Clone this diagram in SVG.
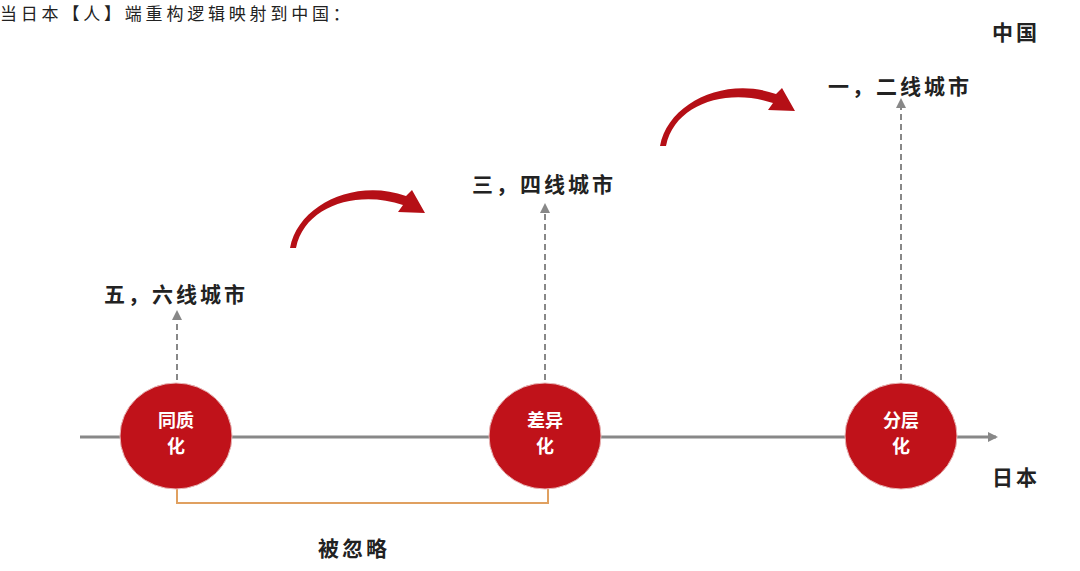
<svg xmlns="http://www.w3.org/2000/svg" width="1080" height="571" viewBox="0 0 1080 571">
<style>
text{font-family:"Noto Sans CJK SC","Noto Sans",sans-serif;fill:#222;font-weight:bold}
.lbl{font-size:21px;letter-spacing:3px}
.c{fill:#c0121a;stroke:#e8b8b8;stroke-width:1}
.ct{fill:#fff;font-size:18px;text-anchor:middle}
.dash{stroke:#888;stroke-width:2;stroke-dasharray:6 4;fill:none}
.arc{fill:#b50f16}
</style>
<defs>
<marker id="ah" markerWidth="10" markerHeight="10" refX="8" refY="5" orient="auto" markerUnits="userSpaceOnUse"><path d="M0,0 L10,5 L0,10 Z" fill="#888"/></marker>
<path id="curl" d="M290,248 C298,205 355,178 406,196 L412,190 L425,213 L398,212 L403,205 C358,190 305,205 296,248 Z"/>
</defs>
<text x="0" y="20" style="font-size:17px;font-weight:normal;letter-spacing:3.8px">当日本【人】端重构逻辑映射到中国：</text>
<g id="connectors">
<line x1="80" y1="437" x2="996" y2="437" stroke="#888" stroke-width="3" marker-end="url(#ah)"/>
<line class="dash" x1="177" y1="380" x2="177" y2="312" marker-end="url(#ah)"/>
<line class="dash" x1="545" y1="380" x2="545" y2="205" marker-end="url(#ah)"/>
<line class="dash" x1="901" y1="380" x2="901" y2="100" marker-end="url(#ah)"/>
<path d="M177,488 V503 H548 V488" fill="none" stroke="#e0a060" stroke-width="2"/>
<use href="#curl" class="arc"/>
<use href="#curl" class="arc" transform="translate(370,-102)"/>
</g>
<g id="n1"><ellipse class="c" cx="176" cy="436" rx="56" ry="53"/><text class="ct" x="176" y="427">同质</text><text class="ct" x="176" y="453">化</text></g>
<g id="n2"><ellipse class="c" cx="545" cy="436" rx="56" ry="53"/><text class="ct" x="545" y="427">差异</text><text class="ct" x="545" y="453">化</text></g>
<g id="n3"><ellipse class="c" cx="901" cy="436" rx="56" ry="53"/><text class="ct" x="901" y="427">分层</text><text class="ct" x="901" y="453">化</text></g>
<g id="l1"><text class="lbl" x="104" y="302">五，六线城市</text></g>
<g id="l2"><text class="lbl" x="472" y="192">三，四线城市</text></g>
<g id="l3"><text class="lbl" x="828" y="94">一，二线城市</text></g>
<g id="l4"><text class="lbl" x="992" y="40">中国</text></g>
<g id="l5"><text class="lbl" x="992" y="485">日本</text></g>
<g id="l6"><text class="lbl" x="318" y="556">被忽略</text></g>
</svg>
